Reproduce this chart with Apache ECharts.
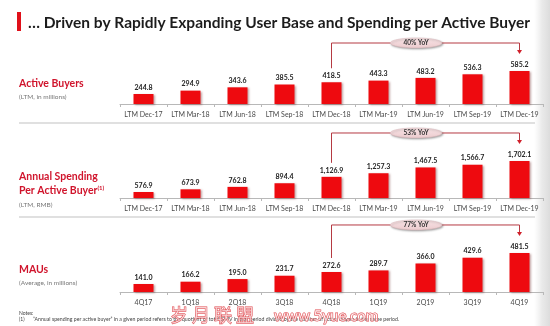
<!DOCTYPE html>
<html>
<head>
<meta charset="utf-8">
<script src="https://cdn.jsdelivr.net/npm/echarts@6/dist/echarts.min.js"></script>
<style>
  html, body { margin: 0; padding: 0; background: #fff; }
  #chart { width: 550px; height: 326px; }
</style>
</head>
<body>
<div id="chart"></div>
<script>
// Period labels
const periodsLTM = ['LTM Dec-17', 'LTM Mar-18', 'LTM Jun-18', 'LTM Sep-18', 'LTM Dec-18',
                    'LTM Mar-19', 'LTM Jun-19', 'LTM Sep-19', 'LTM Dec-19'];
const quarters = ['4Q17', '1Q18', '2Q18', '3Q18', '4Q18', '1Q19', '2Q19', '3Q19', '4Q19'];

// Metrics
const activeBuyers = [244.8, 294.9, 343.6, 385.5, 418.5, 443.3, 483.2, 536.3, 585.2];
const annualSpending = [576.9, 673.9, 762.8, 894.4, 1126.9, 1257.3, 1467.5, 1566.7, 1702.1];
const maus = [141.0, 166.2, 195.0, 231.7, 272.6, 289.7, 366.0, 429.6, 481.5];

// Year-over-year callouts (from 4Q18 / LTM Dec-18 to the latest period)
const yoyLabels = ['40% YoY', '53% YoY', '77% YoY'];
const yoyFrom = 4, yoyTo = 8;

const FONT = 'Lato, "Open Sans", sans-serif';
const RED = '#ee0a0f';
const TITLE_RED = '#d0142c';
const BRACKET = '#b53a42';

const fmt = v => v.toLocaleString('en-US', { minimumFractionDigits: 1, maximumFractionDigits: 1 });

const panels = [
  { cats: periodsLTM, data: activeBuyers, top: 60, height: 44, min: 97, max: 748 },
  { cats: periodsLTM, data: annualSpending, top: 150, height: 48, min: 359, max: 2101 },
  { cats: quarters, data: maus, top: 245, height: 47, min: 53, max: 569 }
];

const chart = echarts.init(document.getElementById('chart'), null, { renderer: 'canvas' });

chart.setOption({
  animation: false,
  backgroundColor: '#ffffff',
  grid: panels.map(p => ({ left: 120, right: 7, top: p.top, height: p.height })),
  xAxis: panels.map((p, i) => ({
    type: 'category',
    gridIndex: i,
    data: p.cats,
    axisLine: { lineStyle: { color: '#b8b8b8', width: 1 } },
    axisTick: { show: true, length: 3, interval: 0, lineStyle: { color: '#b8b8b8' } },
    axisLabel: { color: '#4a4a4a', fontSize: 7, fontFamily: FONT, margin: 7, interval: 0 }
  })),
  yAxis: panels.map((p, i) => ({
    type: 'value', gridIndex: i, show: false, min: p.min, max: p.max,
    splitLine: { show: false }
  })),
  series: panels.map((p, i) => ({
    type: 'bar',
    xAxisIndex: i,
    yAxisIndex: i,
    data: p.data,
    barWidth: 20,
    itemStyle: {
      color: RED,
      shadowColor: 'rgba(80,0,0,0.35)',
      shadowBlur: 2,
      shadowOffsetX: 1,
      shadowOffsetY: 1
    },
    label: {
      show: true,
      position: 'top',
      distance: 3,
      formatter: d => fmt(d.value),
      color: '#222',
      fontSize: 7,
      fontWeight: 'bold',
      fontFamily: FONT
    }
  }))
});

// Static decorations and text
const graphics = [
  // right-hand page shading
  {
    type: 'rect', silent: true, z: 0,
    shape: { x: 534, y: 0, width: 16, height: 326 },
    style: {
      fill: new echarts.graphic.LinearGradient(0, 0, 1, 0, [
        { offset: 0, color: 'rgba(235,235,235,0)' },
        { offset: 0.5, color: 'rgba(228,228,228,0.8)' },
        { offset: 1, color: '#dcdcdc' }
      ])
    }
  },
  // title marker + title
  { type: 'rect', shape: { x: 17, y: 12, width: 4, height: 19 }, style: { fill: '#e0101a' } },
  {
    type: 'text', x: 28, y: 23,
    style: {
      text: '\u2026 Driven by Rapidly Expanding User Base and Spending per Active Buyer',
      font: 'bold 15.5px ' + FONT, fill: '#1c1c1c', verticalAlign: 'middle'
    }
  },
  // panel headings
  { type: 'text', x: 19, y: 84, style: { text: 'Active Buyers', font: 'bold 10.5px ' + FONT, fill: TITLE_RED, verticalAlign: 'middle' } },
  { type: 'text', x: 19, y: 97, style: { text: '(LTM, in millions)', font: '6.5px ' + FONT, fill: '#777', verticalAlign: 'middle' } },
  { type: 'text', x: 19, y: 177, style: { text: 'Annual Spending', font: 'bold 10.5px ' + FONT, fill: TITLE_RED, verticalAlign: 'middle' } },
  {
    type: 'text', x: 19, y: 191,
    style: {
      text: '{a|Per Active Buyer}{s|(1)}',
      verticalAlign: 'middle',
      rich: {
        a: { font: 'bold 10.5px ' + FONT, fill: TITLE_RED, color: TITLE_RED },
        s: { font: 'bold 6px ' + FONT, fill: TITLE_RED, color: TITLE_RED, verticalAlign: 'top', padding: [0, 0, 6, 0] }
      }
    }
  },
  { type: 'text', x: 19, y: 205, style: { text: '(LTM, RMB)', font: '6.5px ' + FONT, fill: '#777', verticalAlign: 'middle' } },
  { type: 'text', x: 19, y: 270, style: { text: 'MAUs', font: 'bold 10.5px ' + FONT, fill: TITLE_RED, verticalAlign: 'middle' } },
  { type: 'text', x: 19, y: 283, style: { text: '(Average, in millions)', font: '6.5px ' + FONT, fill: '#777', verticalAlign: 'middle' } },
  // panel separators
  { type: 'line', shape: { x1: 19, y1: 123, x2: 535, y2: 123 }, style: { stroke: '#d6d6d6', lineWidth: 1.5 } },
  { type: 'line', shape: { x1: 19, y1: 217, x2: 535, y2: 217 }, style: { stroke: '#d6d6d6', lineWidth: 1.5 } },
  // notes
  { type: 'text', x: 19, y: 313, style: { text: 'Notes:', font: '5px ' + FONT, fill: '#444', verticalAlign: 'middle' } },
  { type: 'text', x: 19, y: 319, style: { text: '(1)', font: '5px ' + FONT, fill: '#444', verticalAlign: 'middle' } },
  {
    type: 'text', x: 33, y: 319,
    style: {
      text: '\u201cAnnual spending per active buyer\u201d in a given period refers to the quotient of total GMV in that period divided by the number of active buyers in the same period.',
      font: '5.2px ' + FONT, fill: '#444', verticalAlign: 'middle'
    }
  },
  // site watermark
  {
    type: 'text', x: 170, y: 315, z: 100,
    style: {
      text: '\u5c81 \u6708 \u8054 \u76df', font: '18px "Noto Sans CJK SC", sans-serif',
      fill: 'rgba(255,255,255,0.55)', stroke: '#e0484e', lineWidth: 0.9, verticalAlign: 'middle'
    }
  },
  {
    type: 'text', x: 274, y: 316, z: 100,
    style: {
      text: 'www.5yue.com', font: 'bold 15px ' + FONT,
      fill: 'rgba(255,255,255,0.55)', stroke: '#e0484e', lineWidth: 0.9, verticalAlign: 'middle'
    }
  }
];

// YoY brackets anchored to the bars through the axis scales
panels.forEach((p, i) => {
  const a = chart.convertToPixel({ seriesIndex: i }, [yoyFrom, p.data[yoyFrom]]);
  const b = chart.convertToPixel({ seriesIndex: i }, [yoyTo, p.data[yoyTo]]);
  const yTop = b[1] - 28;
  const leftEnd = a[1] - 14;
  const tip = b[1] - 17;
  graphics.push({
    type: 'polyline', z: 50,
    shape: { points: [[a[0], leftEnd], [a[0], yTop], [b[0], yTop], [b[0], tip - 3]] },
    style: { stroke: BRACKET, lineWidth: 1, fill: null }
  });
  graphics.push({
    type: 'polygon', z: 50,
    shape: { points: [[b[0] - 2.5, tip - 4], [b[0] + 2.5, tip - 4], [b[0], tip]] },
    style: { fill: '#d0202a' }
  });
  const cx = a[0] + 0.45 * (b[0] - a[0]);
  graphics.push({
    type: 'ellipse', z: 51,
    shape: { cx: cx, cy: yTop, rx: 26, ry: 5 },
    style: {
      fill: new echarts.graphic.LinearGradient(0, 0, 0, 1, [
        { offset: 0, color: '#f8e4e6' },
        { offset: 1, color: '#eccbce' }
      ]),
      stroke: '#d9b3b6', lineWidth: 0.5,
      shadowColor: 'rgba(0,0,0,0.35)', shadowBlur: 2, shadowOffsetX: 1, shadowOffsetY: 1
    }
  });
  graphics.push({
    type: 'text', z: 52, x: cx, y: yTop,
    style: {
      text: yoyLabels[i], font: 'bold 6.5px ' + FONT, fill: '#333',
      align: 'center', verticalAlign: 'middle'
    }
  });
});

chart.setOption({ graphic: graphics });
</script>
</body>
</html>
